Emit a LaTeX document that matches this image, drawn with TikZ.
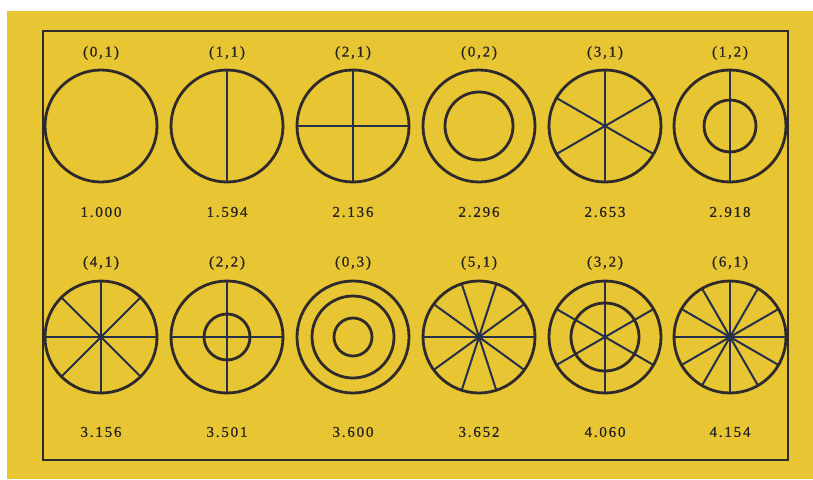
\documentclass[tikz,border=0pt]{standalone}
\usepackage{fontspec}
\setmainfont{Liberation Serif}
\newfontfamily\labfont[LetterSpace=12,FakeBold=0.6]{Liberation Serif}
\usetikzlibrary{calc}
\definecolor{bgy}{HTML}{E8C533}
\definecolor{ink}{HTML}{2E2A2C}
\definecolor{spk}{HTML}{26304A}
\begin{document}
\begin{tikzpicture}[x=1pt,y=-1pt,
  rim/.style={draw=ink,line width=2.8pt},
  spoke/.style={draw=spk,line width=2pt},
  lab/.style={font=\labfont\fontsize{15}{15}\selectfont,text=ink!80!black,inner sep=0pt},
  frame/.style={draw=ink,line width=2.6pt}]
\useasboundingbox (0,0) rectangle (813,479);
\fill[white] (0,0) rectangle (813,479);
\fill[bgy] (7,11) rectangle (813,479);
\draw[frame] (43,31) rectangle (788,460);
% ---- coordinates of centres
\foreach \i/\x in {1/101,2/227,3/353,4/479,5/605,6/730}{
  \coordinate (t\i) at (\x,126);
  \coordinate (b\i) at (\x,337);
}
% ---- labels
\foreach \i/\l/\v in {1/{(0,1)}/1.000,2/{(1,1)}/1.594,3/{(2,1)}/2.136,4/{(0,2)}/2.296,5/{(3,1)}/2.653,6/{(1,2)}/2.918}{
  \node[lab] (tl\i) at ([yshift=73pt]t\i) {\l};
  \node[lab] (tv\i) at ([yshift=-86pt]t\i) {\v};
}
\foreach \i/\l/\v in {1/{(4,1)}/3.156,2/{(2,2)}/3.501,3/{(0,3)}/3.600,4/{(5,1)}/3.652,5/{(3,2)}/4.060,6/{(6,1)}/4.154}{
  \node[lab] (bl\i) at ([yshift=74pt]b\i) {\l};
  \node[lab] (bv\i) at ([yshift=-95pt]b\i) {\v};
}
% ---- spokes (drawn first, rims over them)
\draw[spoke] ([yshift=-56pt]t2) -- ([yshift=56pt]t2);
\draw[spoke] ([yshift=-56pt]t3) -- ([yshift=56pt]t3);
\draw[spoke] ([xshift=-56pt]t3) -- ([xshift=56pt]t3);
\foreach \a in {90,30,150}{\draw[spoke] ($(t5)+(\a:56pt)$) -- ($(t5)+(\a+180:56pt)$);}
\draw[spoke] ([yshift=-56pt]t6) -- ([yshift=56pt]t6);
\foreach \a in {0,45,90,135}{\draw[spoke] ($(b1)+(\a:56pt)$) -- ($(b1)+(\a+180:56pt)$);}
\foreach \a in {0,90}{\draw[spoke] ($(b2)+(\a:56pt)$) -- ($(b2)+(\a+180:56pt)$);}
\foreach \a in {0,36,72,108,144}{\draw[spoke] ($(b4)+(\a:56pt)$) -- ($(b4)+(\a+180:56pt)$);}
\foreach \a in {90,30,150}{\draw[spoke] ($(b5)+(\a:56pt)$) -- ($(b5)+(\a+180:56pt)$);}
\foreach \a in {0,30,60,90,120,150}{\draw[spoke] ($(b6)+(\a:56pt)$) -- ($(b6)+(\a+180:56pt)$);}
% ---- outer rims
\foreach \c in {t1,t2,t3,t4,t5,t6,b1,b2,b3,b4,b5,b6}{\draw[rim] (\c) circle[radius=56pt];}
% ---- inner rings
\draw[rim] (t4) circle[radius=34pt];
\draw[rim] (t6) circle[radius=26pt];
\draw[rim] (b2) circle[radius=23pt];
\draw[rim] (b3) circle[radius=41pt];
\draw[rim] (b3) circle[radius=19pt];
\draw[rim] (b5) circle[radius=34pt];
% centre dots
\foreach \c in {b1,b4,b6}{\fill[spk] (\c) circle[radius=2.5pt];}
\end{tikzpicture}
\end{document}
